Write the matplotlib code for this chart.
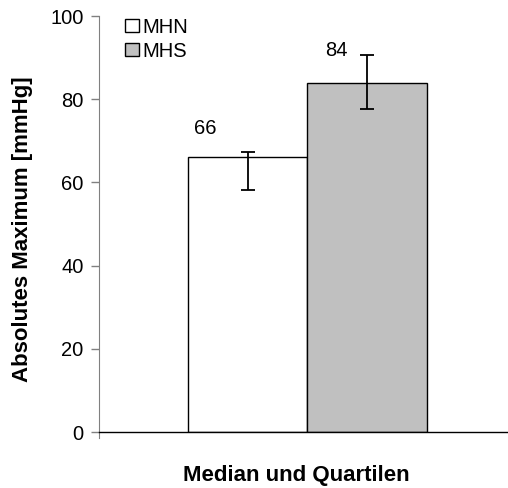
import matplotlib
matplotlib.use('Agg')
import matplotlib.pyplot as plt
from matplotlib.patches import Patch

# Data
groups = ['MHN', 'MHS']
medians = [66, 84]
q_low = [58.2, 77.7]
q_high = [67.3, 90.6]
bar_colors = ['white', '#c0c0c0']
yticks = [0, 20, 40, 60, 80, 100]

plt.rcParams['font.family'] = ['Liberation Sans', 'DejaVu Sans']
plt.rcParams['font.size'] = 14.5

fig = plt.figure(figsize=(5.08, 4.88), dpi=100)
ax = fig.add_axes([99/508, 1 - 432/488, 409/508, 416/488])

x = list(range(len(groups)))
err_lo = [m - lo for m, lo in zip(medians, q_low)]
err_hi = [hi - m for m, hi in zip(medians, q_high)]
ax.bar(x, medians, width=1.0, color=bar_colors, edgecolor='black', linewidth=1.0, zorder=2)
ax.errorbar(x, medians, yerr=[err_lo, err_hi], fmt='none', ecolor='black',
            elinewidth=1.3, capsize=5, capthick=1.3, zorder=3)

# value labels, nudged up/left like the original spreadsheet chart
label_offsets = [(-31, 21), (-22, 23)]
for xi, m, off in zip(x, medians, label_offsets):
    ax.annotate(str(m), (xi, m), xytext=off, textcoords='offset points',
                ha='center', va='center', fontsize=14.5)

ax.set_xlim(-1.248, 2.181)
ax.set_ylim(0, 100)
ax.set_yticks(yticks)
ax.set_xticks([])
ax.tick_params(axis='y', direction='out', length=6, width=1, color='#808080', pad=5,
               labelsize=14.5)
for s in ['top', 'right']:
    ax.spines[s].set_visible(False)
ax.spines['left'].set_color('#808080')
ax.spines['left'].set_bounds(-1.5, 100)
ax.spines['bottom'].set_color('black')
ax.spines['bottom'].set_linewidth(1.0)

fig.text(23/508, 1 - 229/488, 'Absolutes Maximum [mmHg]', rotation=90, ha='center',
         va='center', fontweight='bold', fontsize=16)
fig.text(296/508, 1 - 476/488, 'Median und Quartilen', ha='center', va='center',
         fontweight='bold', fontsize=16)

handles = [Patch(facecolor=c, edgecolor='black', linewidth=1.0) for c in bar_colors]
ax.legend(handles, groups, loc='upper left', bbox_to_anchor=(0.045, 1.015), frameon=False,
          handlelength=0.65, handleheight=0.65, handletextpad=0.2, labelspacing=0.25,
          borderaxespad=0, fontsize=14.5)

fig.savefig('out.png', dpi=100)
